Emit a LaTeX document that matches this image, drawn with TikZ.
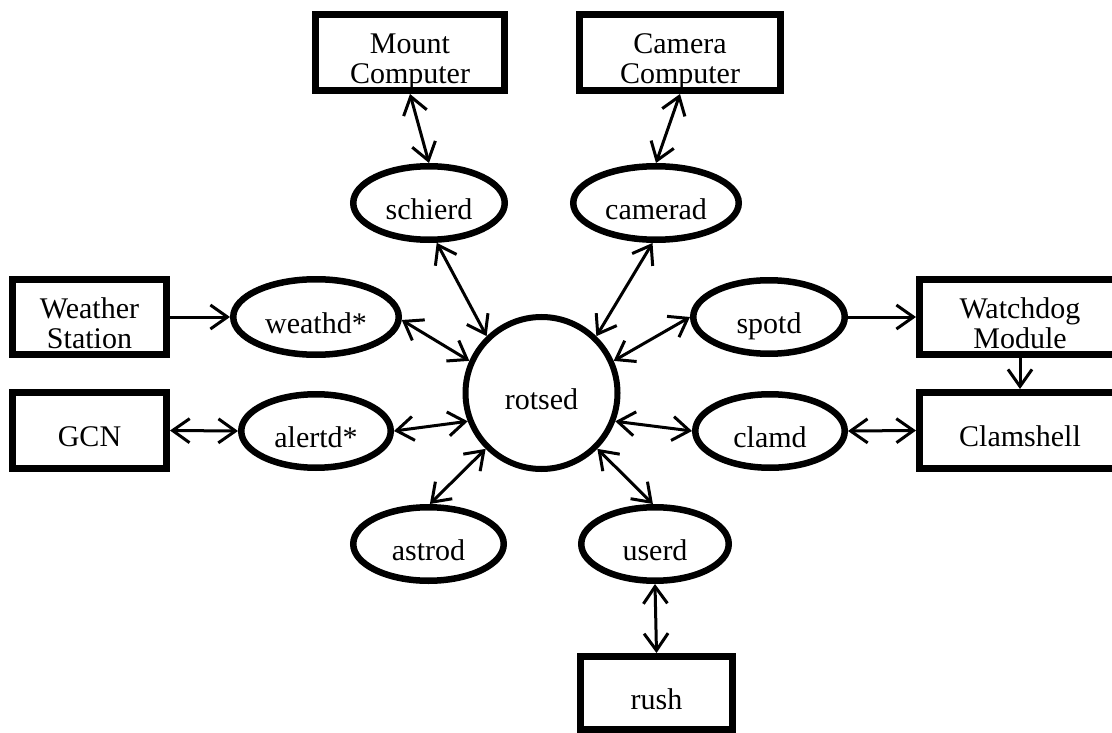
\documentclass[tikz,border=0pt]{standalone}
\usepackage{fontspec}
\setmainfont{Liberation Serif}
\usetikzlibrary{arrows.meta,shapes.geometric}
\newcommand\mytwo[2]{\begin{tabular}[t]{@{}c@{}}#1\\#2\end{tabular}}
\begin{document}
\begin{tikzpicture}[x=1pt,y=-1pt,
  boxs/.style={draw, line width=7pt, rectangle, inner sep=0pt},
  ell/.style={draw, line width=6.5pt, ellipse, inner sep=0pt},
  txt/.style={font=\fontsize{30}{30}\selectfont, inner sep=0pt, anchor=base},
  conn/.style={line width=3pt},
  dbl/.style={conn, {Straight Barb[length=17pt,width=24pt]}-{Straight Barb[length=17pt,width=24pt]}},
  sgl/.style={conn, -{Straight Barb[length=17pt,width=24pt]}}
]
\useasboundingbox (0,0) rectangle (1112,733);
% boxes
\node[boxs, minimum width=189pt, minimum height=76pt] (mount) at (410,52.5) {};
\node[boxs, minimum width=201pt, minimum height=76pt] (camera) at (680,52.5) {};
\node[boxs, minimum width=154pt, minimum height=75pt] (weather) at (89.5,317) {};
\node[boxs, minimum width=154pt, minimum height=76pt] (gcn) at (89.5,430.5) {};
\node[boxs, minimum width=201pt, minimum height=75pt] (watchdog) at (1020,317) {};
\node[boxs, minimum width=201pt, minimum height=76pt] (clamshell) at (1020,430.5) {};
\node[boxs, minimum width=152pt, minimum height=73pt] (rush) at (656.5,693) {};
% ellipses
\node[ell, minimum width=151.5pt, minimum height=73.5pt] (schierd) at (429,203) {};
\node[ell, minimum width=165.5pt, minimum height=73.5pt] (camerad) at (656,203) {};
\node[ell, minimum width=165.5pt, minimum height=75.5pt] (weathd) at (316,317) {};
\node[ell, minimum width=149.5pt, minimum height=73.5pt] (alertd) at (316,431) {};
\node[ell, minimum width=151.5pt, minimum height=73.5pt] (spotd) at (769,317) {};
\node[ell, minimum width=149.5pt, minimum height=73.5pt] (clamd) at (770,431) {};
\node[ell, minimum width=150.5pt, minimum height=73.5pt] (astrod) at (428.5,544) {};
\node[ell, minimum width=147.5pt, minimum height=73.5pt] (userd) at (655,544) {};
\node[draw, circle, line width=6pt, inner sep=0pt, minimum size=152pt] (rotsed) at (541.5,393) {};
% texts
\node[txt] (mountT) at ([yshift=-1pt]mount.center) {\mytwo{Mount}{Computer}};
\node[txt] (cameraT) at ([yshift=-1pt]camera.center) {\mytwo{Camera}{Computer}};
\node[txt] (weatherT) at ([yshift=-1pt]weather.center) {\mytwo{Weather}{Station}};
\node[txt] (watchdogT) at ([yshift=-1pt]watchdog.center) {\mytwo{Watchdog}{Module}};
\node[txt] (gcnT) at ([yshift=-16pt]gcn.center) {GCN};
\node[txt] (clamshellT) at ([yshift=-16pt]clamshell.center) {Clamshell};
\node[txt] (rushT) at ([yshift=-16pt]rush.center) {rush};
\node[txt] (schierdT) at ([yshift=-16pt]schierd.center) {schierd};
\node[txt] (cameradT) at ([yshift=-16pt]camerad.center) {camerad};
\node[txt] (weathdT) at ([yshift=-16pt]weathd.center) {weathd*};
\node[txt] (alertdT) at ([yshift=-16pt]alertd.center) {alertd*};
\node[txt] (spotdT) at ([yshift=-16pt]spotd.center) {spotd};
\node[txt] (clamdT) at ([yshift=-16pt]clamd.center) {clamd};
\node[txt] (astrodT) at ([yshift=-16pt]astrod.center) {astrod};
\node[txt] (userdT) at ([yshift=-16pt]userd.center) {userd};
\node[txt] (rotsedT) at ([yshift=-16pt]rotsed.center) {rotsed};
% connectors
\draw[dbl] (mount.south) -- (schierd.north);
\draw[dbl] (camera.south) -- (camerad.north);
\draw[sgl] (weather.east) -- (weathd.west);
\draw[dbl] (gcn.east) -- (alertd.west);
\draw[sgl] (spotd.east) -- (watchdog.west);
\draw[dbl] (clamd.east) -- (clamshell.west);
\draw[sgl] (watchdog.south) -- (clamshell.north);
\draw[dbl] (userd.south) -- (rush.north);
\draw[dbl] (schierd.281) -- (rotsed.134);
\draw[dbl] (weathd.-2) -- (rotsed.156);
\draw[dbl] (alertd.0) -- (rotsed.201);
\draw[dbl] (astrod.88) -- (rotsed.225);
\draw[dbl] (camerad.265) -- (rotsed.46);
\draw[dbl] (spotd.180) -- (rotsed.24);
\draw[dbl] (clamd.180) -- (rotsed.-21);
\draw[dbl] (userd.93) -- (rotsed.-45);
\end{tikzpicture}
\end{document}
